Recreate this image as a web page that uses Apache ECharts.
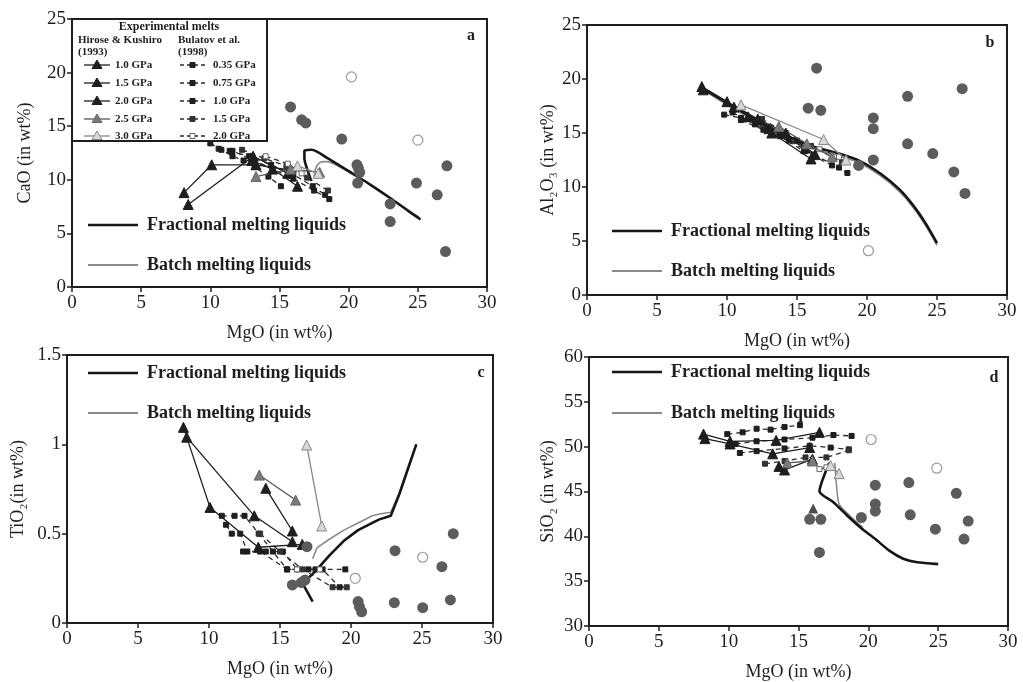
<!DOCTYPE html>
<html><head><meta charset="utf-8">
<script src="https://cdn.jsdelivr.net/npm/echarts@6/dist/echarts.min.js"></script>
<style>html,body{margin:0;padding:0;background:#fff}#c{width:1023px;height:682px}</style>
</head><body><div id="c"></div>
<script>
// ---------- axis ticks ----------
const xTicks = [0, 5, 10, 15, 20, 25, 30];
const yTicksA = [0, 5, 10, 15, 20, 25];
const yTicksB = [0, 5, 10, 15, 20, 25];
const yTicksC = [0, 0.5, 1, 1.5];
const yTicksD = [30, 35, 40, 45, 50, 55, 60];
const hkLabels = ['1.0 GPa', '1.5 GPa', '2.0 GPa', '2.5 GPa', '3.0 GPa'];
const buLabels = ['0.35 GPa', '0.75 GPa', '1.0 GPa', '1.5 GPa', '2.0 GPa'];

// ---------- panel a: CaO vs MgO ----------
const aHK10 = [[8.1,8.8],[10.1,11.4],[13.3,11.4],[15.8,10.9]];
const aHK15 = [[8.4,7.7],[13.1,12.2],[15.6,10.6]];
const aHK20 = [[13.0,11.8],[14.5,11.0],[16.3,9.4]];
const aHK25 = [[13.3,10.3],[15.8,11.0],[17.9,10.7]];
const aHK30 = [[16.3,11.3],[17.8,10.6]];
const aBU035 = [[10.0,13.4],[10.8,12.8],[11.6,12.2],[12.4,11.8],[13.2,11.2],[14.2,10.3],[15.1,9.4]];
const aBU075 = [[10.6,12.9],[11.6,12.7],[13.0,11.9],[14.5,11.0],[16.0,10.1],[17.5,9.0],[18.6,8.2]];
const aBU10 = [[11.4,12.7],[12.8,12.2],[14.4,11.4],[16.0,10.5],[17.4,9.4],[18.3,8.6]];
const aBU15 = [[12.3,12.8],[13.9,12.0],[15.5,11.3],[17.0,10.2],[18.5,9.0]];
const aBU20 = [[14.0,12.2],[15.6,11.5],[16.6,10.6]];
const aFrac = [[17.3,9.9],[17.0,11.0],[16.8,12.0],[16.8,12.7],[17.3,12.8],[18.5,12.0],[20,10.8],[21.5,9.6],[23,8.3],[24.3,7.1],[25.2,6.3]];
const aBatch = [[17.5,10.2],[17.6,11.0],[17.9,11.6],[18.4,11.7],[19.5,11.1],[21,10.0],[22.5,8.7],[24,7.4],[25.1,6.5]];
const aDots = [[15.8,16.8],[16.6,15.6],[16.9,15.3],[19.5,13.8],[20.6,11.4],[20.7,11.1],[20.8,10.7],[20.65,9.7],[23.0,7.75],[23.0,6.1],[24.9,9.7],[27.1,11.3],[26.4,8.6],[27.0,3.3]];
const aOpen = [[20.2,19.6],[25.0,13.7]];

// ---------- panel b: Al2O3 vs MgO ----------
const bHK10 = [[8.2,19.3],[10.0,17.9],[12.2,16.3],[14.2,15.0],[16.3,13.0]];
const bHK15 = [[8.3,19.0],[10.5,17.4],[13.0,15.4],[15.6,13.6]];
const bHK20 = [[11.5,16.5],[13.2,15.0],[16.0,12.6]];
const bHK25 = [[13.7,15.6],[15.7,14.0],[17.5,12.8]];
const bHK30 = [[11.0,17.6],[16.9,14.4],[18.5,12.5]];
const bBU035 = [[9.8,16.7],[11.0,16.4],[12.4,16.0],[13.8,15.2],[15.0,14.3]];
const bBU075 = [[10.4,16.9],[12.0,15.8],[13.8,14.7],[15.5,13.3],[17.5,12.0],[18.6,11.3]];
const bBU10 = [[11.0,16.2],[12.6,15.3],[14.4,14.3],[16.2,13.0],[18.0,11.8]];
const bBU15 = [[12.5,16.3],[14.2,15.0],[16.0,13.8],[18.2,12.3]];
const bBU20 = [[16.6,13.5],[18.0,12.8]];
const bFrac = [[8.2,19.2],[10,17.8],[12,16.3],[14,14.9],[16,13.8],[18,13.1],[19.5,12.4],[21,11.2],[22.3,9.8],[23.3,8.3],[24.2,6.6],[25,4.8]];
const bBatch = [[8.3,19.0],[10,17.6],[12,16.1],[14,14.7],[16,13.6],[18,12.9],[19.5,12.2],[21,11.0],[22.3,9.6],[23.3,8.1],[24.2,6.4],[25,4.6]];
const bDots = [[16.4,21.0],[15.8,17.3],[16.7,17.1],[20.45,16.4],[20.45,15.4],[20.45,12.5],[19.4,12.0],[22.9,18.4],[22.9,14.0],[24.7,13.1],[26.2,11.4],[26.8,19.1],[27.0,9.4]];
const bOpen = [[20.1,4.1]];

// ---------- panel c: TiO2 vs MgO ----------
const cHK10 = [[8.2,1.095],[10.07,0.647],[13.47,0.424],[16.57,0.44]];
const cHK15 = [[8.43,1.04],[13.19,0.60],[15.87,0.455]];
const cHK20 = [[14.0,0.754],[15.87,0.515]];
const cHK25 = [[13.54,0.828],[16.1,0.688]];
const cHK30 = [[16.88,0.996],[17.94,0.543]];
const cBU035 = [[10.9,0.6],[11.8,0.6],[12.5,0.6],[13.5,0.5],[14.5,0.4],[15.5,0.3],[17.0,0.3]];
const cBU075 = [[11.2,0.55],[11.6,0.5],[12.2,0.5],[12.7,0.4],[14.0,0.4],[15.2,0.4],[16.2,0.3],[18.0,0.3],[19.2,0.2]];
const cBU10 = [[12.4,0.4],[13.6,0.4],[15.5,0.3],[17.5,0.3],[19.6,0.3]];
const cBU15 = [[13.6,0.5],[15.0,0.4],[16.6,0.3],[18.7,0.2],[19.7,0.2]];
const cBU20 = [[16.2,0.3],[17.8,0.3]];
const cFrac = [[17.3,0.12],[16.6,0.22],[17.5,0.29],[18.5,0.38],[19.5,0.46],[20.5,0.52],[21.5,0.56],[22.0,0.58],[22.8,0.6],[23.4,0.72],[24.0,0.86],[24.6,1.0]];
const cBatch = [[17.3,0.36],[17.6,0.42],[18.5,0.47],[19.5,0.52],[20.5,0.56],[21.5,0.6],[22.0,0.61],[22.8,0.62],[23.4,0.73],[24.0,0.87],[24.6,1.0]];
const cDots = [[15.87,0.213],[16.5,0.226],[16.76,0.24],[16.9,0.427],[23.1,0.405],[20.5,0.12],[20.6,0.09],[20.75,0.063],[23.05,0.114],[25.05,0.086],[26.4,0.315],[27.2,0.50],[27.0,0.129]];
const cOpen = [[20.3,0.25],[25.05,0.368]];

// ---------- panel d: SiO2 vs MgO ----------
const dHK10 = [[8.2,51.4],[10.1,50.6],[13.4,50.7],[16.5,51.6]];
const dHK15 = [[8.3,50.9],[10.1,50.3],[13.15,49.2],[15.8,49.9]];
const dHK20 = [[13.6,47.8],[14.0,47.4],[16.0,48.6]];
const dHK25 = [[14.2,48.2],[16.0,48.4]];
const dHK30 = [[17.3,47.9],[17.9,47.0]];
const dHKlone = [[16.05,43.1]];
const dBU035 = [[9.9,51.4],[11,51.6],[12,52.0],[13,51.9],[14,52.2],[15.1,52.4]];
const dBU075 = [[10.5,50.3],[12,50.6],[14,50.8],[16,51.0],[17.5,51.3],[18.8,51.2]];
const dBU10 = [[10.8,49.3],[12,49.5],[14,49.8],[15.8,50.1],[17.3,49.9],[18.6,49.7]];
const dBU15 = [[12.6,48.1],[14,48.4],[15.5,48.8],[17,48.8],[18.6,49.6]];
const dBU20 = [[16.5,47.5],[17.0,47.7]];
const dFrac = [[17.2,48.2],[16.5,45.0],[17.5,43.8],[18.5,42.3],[19.5,40.9],[20.5,39.7],[21.5,38.4],[22.5,37.5],[23.5,37.1],[25,36.9]];
const dBatch = [[17.6,48.2],[17.7,46.0],[17.9,43.6],[18.6,42.4],[19.6,41.0]];
const dDots = [[15.8,41.9],[16.6,41.9],[16.5,38.2],[19.5,42.1],[20.5,45.7],[20.5,43.6],[20.5,42.8],[22.9,46.0],[23.0,42.4],[24.8,40.8],[26.3,44.8],[27.15,41.7],[26.85,39.7]];
const dOpen = [[20.2,50.8],[24.9,47.6]];

// ---------- build ----------
const SERIF = '"Liberation Serif","DejaVu Serif",serif';
const INK = '#1e1e1e';
const hkStyle = [
  {fill: INK, border: INK, line: INK},
  {fill: INK, border: INK, line: INK},
  {fill: INK, border: INK, line: INK},
  {fill: '#7a7a7a', border: '#666', line: '#555'},
  {fill: '#d8d8d8', border: '#888', line: '#888'}
];
const buStyle = [
  {fill: INK, border: INK},
  {fill: INK, border: INK},
  {fill: INK, border: INK},
  {fill: '#333', border: '#333'},
  {fill: '#fff', border: '#666'}
];
const panels = [
  {hk: [aHK10, aHK15, aHK20, aHK25, aHK30], bu: [aBU035, aBU075, aBU10, aBU15, aBU20], frac: aFrac, batch: aBatch, dots: aDots, open: aOpen, extra: [], smooth: 0.3},
  {hk: [bHK10, bHK15, bHK20, bHK25, bHK30], bu: [bBU035, bBU075, bBU10, bBU15, bBU20], frac: bFrac, batch: bBatch, dots: bDots, open: bOpen, extra: [], smooth: 0.3},
  {hk: [cHK10, cHK15, cHK20, cHK25, cHK30], bu: [cBU035, cBU075, cBU10, cBU15, cBU20], frac: cFrac, batch: cBatch, dots: cDots, open: cOpen, extra: [], smooth: false},
  {hk: [dHK10, dHK15, dHK20, dHK25, dHK30], bu: [dBU035, dBU075, dBU10, dBU15, dBU20], frac: dFrac, batch: dBatch, dots: dDots, open: dOpen, extra: [dHKlone], smooth: 0.2}
];
const grids = [
  {left: 72, top: 19, width: 415, height: 268},
  {left: 587, top: 25, width: 420, height: 270},
  {left: 67, top: 355, width: 426, height: 268},
  {left: 589, top: 357, width: 419, height: 270}
];
const yNames = ['CaO (in wt%)', 'Al\u2082O\u2083 (in wt%)', 'TiO\u2082(in wt%)', 'SiO\u2082 (in wt%)'];
const yNameGaps = [38, 30, 40, 32];
const yTickSets = [yTicksA, yTicksB, yTicksC, yTicksD];

const series = [];
panels.forEach((p, gi) => {
  series.push({type: 'line', xAxisIndex: gi, yAxisIndex: gi, data: p.batch, showSymbol: false, smooth: p.smooth,
    lineStyle: {color: '#8a8a8a', width: 1.6}, z: 3, silent: true});
  series.push({type: 'line', xAxisIndex: gi, yAxisIndex: gi, data: p.frac, showSymbol: false, smooth: p.smooth,
    lineStyle: {color: '#161616', width: 2.6}, z: 4, silent: true});
  p.bu.forEach((d, i) => series.push({type: 'line', xAxisIndex: gi, yAxisIndex: gi, data: d, symbol: 'rect', symbolSize: 5,
    lineStyle: {color: '#2a2a2a', width: 1.3, type: [5, 4]}, itemStyle: {color: buStyle[i].fill, borderColor: buStyle[i].border, borderWidth: 1}, z: 5, silent: true}));
  p.hk.forEach((d, i) => series.push({type: 'line', xAxisIndex: gi, yAxisIndex: gi, data: d, symbol: 'triangle', symbolSize: 10,
    lineStyle: {color: hkStyle[i].line, width: 1.3}, itemStyle: {color: hkStyle[i].fill, borderColor: hkStyle[i].border, borderWidth: 1}, z: 6, silent: true}));
  p.extra.forEach(d => series.push({type: 'scatter', xAxisIndex: gi, yAxisIndex: gi, data: d, symbol: 'triangle', symbolSize: 10,
    itemStyle: {color: INK}, z: 6, silent: true}));
  series.push({type: 'scatter', xAxisIndex: gi, yAxisIndex: gi, data: p.dots, symbol: 'circle', symbolSize: 11,
    itemStyle: {color: '#5c5c5c', opacity: 1}, z: 7, silent: true});
  series.push({type: 'scatter', xAxisIndex: gi, yAxisIndex: gi, data: p.open, symbol: 'circle', symbolSize: 10,
    itemStyle: {color: '#fff', borderColor: '#9a9a9a', borderWidth: 1.2, opacity: 1}, z: 7, silent: true});
});

const xAxes = grids.map((g, i) => ({
  type: 'value', gridIndex: i, min: xTicks[0], max: xTicks[xTicks.length - 1], interval: 5,
  name: 'MgO (in wt%)', nameLocation: 'middle', nameGap: 37,
  nameTextStyle: {fontFamily: SERIF, fontSize: 18, color: INK},
  axisLine: {show: true, onZero: false, lineStyle: {color: INK, width: 2}},
  axisTick: {show: true, inside: false, length: 5, lineStyle: {color: INK, width: 1.5}},
  axisLabel: {fontFamily: SERIF, fontSize: 19, color: INK, margin: 7},
  splitLine: {show: false}
}));
const yAxes = grids.map((g, i) => {
  const t = yTickSets[i];
  return {
    type: 'value', gridIndex: i, min: t[0], max: t[t.length - 1], interval: t[1] - t[0],
    name: yNames[i], nameLocation: 'middle', nameGap: yNameGaps[i], nameRotate: 90,
    nameTextStyle: {fontFamily: SERIF, fontSize: 18, color: INK},
    axisLine: {show: true, onZero: false, lineStyle: {color: INK, width: 2}},
    axisTick: {show: true, inside: false, length: 5, lineStyle: {color: INK, width: 1.5}},
    axisLabel: {fontFamily: SERIF, fontSize: 19, color: INK, margin: 6},
    splitLine: {show: false}
  };
});

// ---------- legend / annotation graphics ----------
const graphic = [];
function txt(x, y, s, size, bold, align) {
  graphic.push({type: 'text', z: 100, style: {text: s, x: x, y: y, fill: INK, align: align || 'left', verticalAlign: 'middle',
    font: (bold ? 'bold ' : '') + size + 'px ' + SERIF}});
}
function seg(x1, y1, x2, y2, color, w, dash) {
  graphic.push({type: 'line', z: 100, shape: {x1, y1, x2, y2}, style: {stroke: color, lineWidth: w, lineDash: dash || null}});
}
// model-curve legends
const mLeg = [[88, 225, 265], [612, 231, 271], [88, 373, 413], [612, 372, 413]];
mLeg.forEach(([x, y1, y2]) => {
  seg(x, y1, x + 50, y1, '#161616', 2.6);
  txt(x + 59, y1, 'Fractional melting liquids', 18, true);
  seg(x, y2, x + 50, y2, '#8a8a8a', 1.8);
  txt(x + 59, y2, 'Batch melting liquids', 18, true);
});
// panel letters
txt(471, 36, 'a', 16, true, 'center');
txt(990, 43, 'b', 16, true, 'center');
txt(481, 373, 'c', 16, true, 'center');
txt(994, 378, 'd', 16, true, 'center');
// experimental melts box in panel a
graphic.push({type: 'rect', z: 99, shape: {x: 72, y: 19, width: 195, height: 122}, style: {fill: '#fff', stroke: INK, lineWidth: 2}});
txt(169, 27, 'Experimental melts', 12, true, 'center');
txt(78, 40, 'Hirose & Kushiro', 11, true);
txt(78, 52, '(1993)', 11, true);
txt(178, 40, 'Bulatov et al.', 11, true);
txt(178, 52, '(1998)', 11, true);
const rowsY = [65, 83, 101, 119, 136];
rowsY.forEach((y, i) => {
  seg(84, y, 110, y, hkStyle[i].line, 1.3);
  graphic.push({type: 'polygon', z: 101, shape: {points: [[97, y - 5], [92, y + 3.5], [102, y + 3.5]]},
    style: {fill: hkStyle[i].fill, stroke: hkStyle[i].border, lineWidth: 1}});
  txt(115, y, hkLabels[i], 11, true);
  seg(180, y, 205, y, '#2a2a2a', 1.3, [4, 3]);
  graphic.push({type: 'rect', z: 101, shape: {x: 190, y: y - 2.5, width: 5, height: 5},
    style: {fill: buStyle[i].fill, stroke: buStyle[i].border, lineWidth: 1}});
  txt(213, y, buLabels[i], 11, true);
});

const chart = echarts.init(document.getElementById('c'), null, {renderer: 'canvas'});
chart.setOption({
  backgroundColor: '#fff',
  animation: false,
  grid: grids.map(g => Object.assign({show: true, borderColor: INK, borderWidth: 2, backgroundColor: 'transparent', containLabel: false}, g)),
  xAxis: xAxes,
  yAxis: yAxes,
  series: series,
  graphic: graphic
});
</script></body></html>
